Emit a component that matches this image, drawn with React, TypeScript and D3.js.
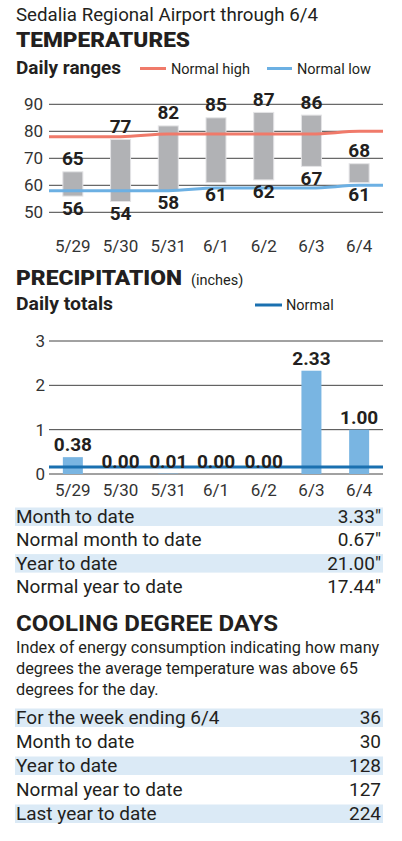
import React from "react";
import * as d3 from "d3";

// ---- data ----
const days = ["5/29", "5/30", "5/31", "6/1", "6/2", "6/3", "6/4"];
const highs = [65, 77, 82, 85, 87, 86, 68];
const lows = [56, 54, 58, 61, 62, 67, 61];
const normalHigh = [78, 78, 79, 79, 79, 79, 80];
const normalLow = [58, 58, 58, 59, 59, 59, 60];
const tempTicks = [50, 60, 70, 80, 90];

const precip = [0.38, 0.0, 0.01, 0.0, 0.0, 2.33, 1.0];
const normalPrecip = [0.16, 0.16, 0.16, 0.16, 0.16, 0.16, 0.16];
const precipTicks = [0, 1, 2, 3];

const precipLabels = ["Month to date", "Normal month to date", "Year to date", "Normal year to date"];
const precipTotals = ["3.33\u2033", "0.67\u2033", "21.00\u2033", "17.44\u2033"];

const cddLabels = ["For the week ending 6/4", "Month to date", "Year to date", "Normal year to date", "Last year to date"];
const cddValues = ["36", "30", "128", "127", "224"];
const cddNote = [
  "Index of energy consumption indicating how many",
  "degrees the average temperature was above 65",
  "degrees for the day.",
];

const W = 402;
const H = 841;
const FONT = "Roboto, 'Noto Sans', sans-serif";
const INK = "#231f20";
const RED = "#f07a6a";
const LIGHTBLUE = "#6cb0e3";
const DARKBLUE = "#1a70b0";
const BAND = "#dbeaf6";

const left = 49;
const right = 383;

const x = d3.scalePoint<string>().domain(days).range([left, right]).padding(0.5);
const barW = 20;

const yT = d3.scaleLinear().domain([50, 90]).range([212.3, 104.3]);
const yP = d3.scaleLinear().domain([0, 3]).range([474, 341]);

// normal lines span the full plot width
const extend = (vals: number[]) => [
  [left, vals[0]],
  ...days.map((d, i) => [x(d) as number, vals[i]]),
  [right, vals[vals.length - 1]],
];

const tLine = d3
  .line<number[]>()
  .x((d) => d[0])
  .y((d) => yT(d[1]))
  .curve(d3.curveMonotoneX);

const pLine = d3
  .line<number[]>()
  .x((d) => d[0])
  .y((d) => yP(d[1]))
  .curve(d3.curveMonotoneX);

const Table = ({ labels, values, y0, step }: { labels: string[]; values: string[]; y0: number; step: number }) => (
  <g>
    {labels.map((l, i) => {
      const by = y0 + i * step;
      return (
        <g key={l}>
          {i % 2 === 0 && <rect x={15} y={by - 15.5} width={368} height={18.5} fill={BAND} />}
          <text x={16} y={by} fontSize={19} fill={INK}>
            {l}
          </text>
          <text x={381} y={by} fontSize={19} fill={INK} textAnchor="end">
            {values[i]}
          </text>
        </g>
      );
    })}
  </g>
);

export default function App() {
  return (
    <svg
      width={W}
      height={H}
      style={{ position: "absolute", left: 0, top: 0, background: "#fff" }}
      fontFamily={FONT}
    >
      {/* header */}
      <text x={16} y={21} fontSize={19} fill={INK} textLength={302} lengthAdjust="spacingAndGlyphs">
        Sedalia Regional Airport through 6/4
      </text>
      <text x={16} y={47} fontSize={19.5} fontWeight={900} fill={INK} textLength={174} lengthAdjust="spacingAndGlyphs">
        TEMPERATURES
      </text>
      <text x={16} y={74} fontSize={17.5} fontWeight={700} fill={INK} textLength={105} lengthAdjust="spacingAndGlyphs">
        Daily ranges
      </text>
      <line x1={140} x2={166} y1={68.5} y2={68.5} stroke={RED} strokeWidth={3} />
      <text x={171} y={73.5} fontSize={14.5} fill={INK}>
        Normal high
      </text>
      <line x1={267} x2={292} y1={68.5} y2={68.5} stroke={LIGHTBLUE} strokeWidth={3} />
      <text x={297} y={73.5} fontSize={14.5} fill={INK}>
        Normal low
      </text>

      {/* temperature chart */}
      {tempTicks.map((t) => (
        <g key={t}>
          <line x1={left} x2={right} y1={yT(t)} y2={yT(t)} stroke="#444" strokeWidth={1} />
          <text x={43} y={yT(t)} dy="0.36em" fontSize={17} fill="#333" textAnchor="end">
            {t}
          </text>
        </g>
      ))}
      {days.map((d, i) => (
        <rect
          key={d}
          x={(x(d) as number) - barW / 2}
          y={yT(highs[i])}
          width={barW}
          height={yT(lows[i]) - yT(highs[i])}
          fill="#b1b2b5"
          stroke="#e4e4e6"
          strokeWidth={1}
        />
      ))}
      <path d={tLine(extend(normalHigh)) || ""} fill="none" stroke={RED} strokeWidth={3} />
      <path d={tLine(extend(normalLow)) || ""} fill="none" stroke={LIGHTBLUE} strokeWidth={3} />
      {days.map((d, i) => (
        <g key={d} fontSize={19} fontWeight={700} fill={INK} textAnchor="middle">
          <text x={x(d)} y={yT(highs[i]) - 6.5}>
            {highs[i]}
          </text>
          <text x={x(d)} y={yT(lows[i]) + 18.5}>
            {lows[i]}
          </text>
        </g>
      ))}
      {days.map((d) => (
        <text key={d} x={x(d)} y={251.5} fontSize={17} fill="#333" textAnchor="middle">
          {d}
        </text>
      ))}

      {/* precipitation */}
      <text x={16} y={285} fontSize={20} fontWeight={900} fill={INK} textLength={166} lengthAdjust="spacingAndGlyphs">
        PRECIPITATION
      </text>
      <text x={191} y={285} fontSize={14.5} fill={INK}>
        (inches)
      </text>
      <text x={16} y={310} fontSize={17.5} fontWeight={700} fill={INK} textLength={97} lengthAdjust="spacingAndGlyphs">
        Daily totals
      </text>
      <line x1={255} x2={282} y1={305} y2={305} stroke={DARKBLUE} strokeWidth={3} />
      <text x={286} y={310} fontSize={14.5} fill={INK}>
        Normal
      </text>

      {precipTicks.map((t) => (
        <g key={t}>
          <line x1={left} x2={right} y1={yP(t)} y2={yP(t)} stroke="#444" strokeWidth={1} />
          <text x={45} y={yP(t)} dy="0.36em" fontSize={17} fill="#333" textAnchor="end">
            {t}
          </text>
        </g>
      ))}
      {days.map((d, i) => (
        <rect
          key={d}
          x={(x(d) as number) - barW / 2}
          y={yP(precip[i])}
          width={barW}
          height={yP(0) - yP(precip[i])}
          fill="#79b5e2"
        />
      ))}
      <path d={pLine(extend(normalPrecip)) || ""} fill="none" stroke={DARKBLUE} strokeWidth={3} />
      {days.map((d, i) => (
        <text
          key={d}
          x={x(d)}
          y={yP(precip[i]) - 6}
          fontSize={19}
          fontWeight={700}
          fill={INK}
          textAnchor="middle"
        >
          {precip[i].toFixed(2)}
        </text>
      ))}
      {days.map((d) => (
        <text key={d} x={x(d)} y={496} fontSize={17} fill="#333" textAnchor="middle">
          {d}
        </text>
      ))}

      <Table labels={precipLabels} values={precipTotals} y0={523} step={23.3} />

      {/* cooling degree days */}
      <text x={16} y={631} fontSize={22} fontWeight={700} fill={INK} textLength={262} lengthAdjust="spacingAndGlyphs">
        COOLING DEGREE DAYS
      </text>
      {cddNote.map((l, i) => (
        <text key={l} x={16} y={653 + i * 21} fontSize={16.3} fill={INK}>
          {l}
        </text>
      ))}
      <Table labels={cddLabels} values={cddValues} y0={724} step={24} />
    </svg>
  );
}
